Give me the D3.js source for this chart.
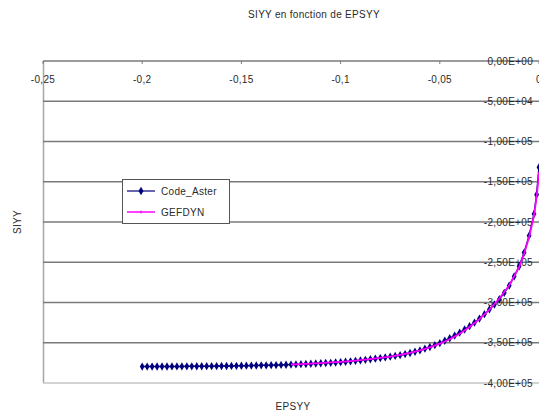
<!DOCTYPE html>
<html>
<head>
<meta charset="utf-8">
<title>SIYY en fonction de EPSYY</title>
<style>
body { margin: 0; background: #fff; }
text { font-family: "Liberation Sans", Arial, sans-serif; fill: #2a2a2a; letter-spacing: 0.3px; }
.tick-label { font-size: 10px; }
.title { font-size: 10px; }
</style>
</head>
<body>
<script src="https://cdn.jsdelivr.net/npm/d3@7"></script>
<script>

// Code_Aster series (EPSYY, SIYY x1000)
var asterEps = [-0.2, -0.1975, -0.195, -0.1925, -0.19, -0.1875, -0.185, -0.1825, -0.18, -0.1775,
  -0.175, -0.1725, -0.17, -0.1675, -0.165, -0.1625, -0.16, -0.1575, -0.155, -0.1525,
  -0.15, -0.1475, -0.145, -0.1425, -0.14, -0.1375, -0.135, -0.1325, -0.13, -0.1275,
  -0.125, -0.1225, -0.12, -0.1175, -0.115, -0.1125, -0.11, -0.1075, -0.105, -0.1025,
  -0.1, -0.0975, -0.095, -0.0925, -0.09, -0.0875, -0.085, -0.0825, -0.08, -0.0775,
  -0.075, -0.0725, -0.07, -0.0675, -0.065, -0.0625, -0.06, -0.0575, -0.055, -0.0525,
  -0.05, -0.0475, -0.045, -0.0425, -0.04, -0.0375, -0.035, -0.0325, -0.03, -0.0275,
  -0.025, -0.0225, -0.02, -0.0175, -0.015, -0.0125, -0.01, -0.0075, -0.005, -0.0025,
  -0.0012, 0];
var asterSig = [-379.6, -379.6, -379.6, -379.5, -379.5, -379.5, -379.4, -379.4, -379.4, -379.3,
  -379.3, -379.2, -379.2, -379.1, -379.1, -379.0, -378.9, -378.9, -378.8, -378.7,
  -378.6, -378.5, -378.4, -378.3, -378.1, -378.0, -377.9, -377.7, -377.5, -377.3,
  -377.1, -376.9, -376.6, -376.4, -376.1, -375.8, -375.5, -375.2, -374.9, -374.5,
  -374.1, -373.6, -373.1, -372.5, -371.9, -371.2, -370.5, -369.8, -369.0, -368.2,
  -367.3, -366.4, -365.4, -364.1, -362.7, -361.2, -359.5, -357.4, -355.3, -353.0,
  -350.5, -347.5, -344.4, -341.1, -337.5, -333.5, -329.4, -324.9, -320.0, -314.5,
  -308.6, -302.5, -296.0, -288.0, -279.0, -267.5, -255.0, -238.0, -217.0, -190.0,
  -166.0, -132.0];

// GEFDYN series
var gefEps = [-0.125, -0.12, -0.115, -0.11, -0.105, -0.1, -0.095, -0.09, -0.085, -0.08,
  -0.075, -0.07, -0.065, -0.06, -0.055, -0.05, -0.045, -0.04, -0.035, -0.03,
  -0.025, -0.02, -0.015, -0.01, -0.0075, -0.005, -0.0025, -0.001, 0];
var gefSig = [-377.0, -376.5, -375.9, -375.2, -374.5, -373.7, -372.8, -371.7, -370.4, -368.9,
  -367.1, -365.0, -362.5, -359.5, -355.8, -351.2, -345.6, -338.8, -330.5, -320.6,
  -308.8, -295.0, -278.5, -256.0, -239.5, -219.0, -192.0, -165.0, -138.0];

var xTicks = [-0.25, -0.2, -0.15, -0.1, -0.05, 0];
var xTickLabels = ["-0,25", "-0,2", "-0,15", "-0,1", "-0,05", "0"];
var yTicks = [0, -50000, -100000, -150000, -200000, -250000, -300000, -350000, -400000];
var yTickLabels = ["0,00E+00", "-5,00E+04", "-1,00E+05", "-1,50E+05", "-2,00E+05",
  "-2,50E+05", "-3,00E+05", "-3,50E+05", "-4,00E+05"];
var seriesNames = ["Code_Aster", "GEFDYN"];

var width = 539, height = 418;
var plotL = 43, plotR = 539, plotT = 61, plotB = 383;

var x = d3.scaleLinear().domain([-0.25, 0]).range([plotL, plotR]);
var y = d3.scaleLinear().domain([-400000, 0]).range([plotB, plotT]);

var svg = d3.select("body").append("svg")
    .attr("width", width)
    .attr("height", height);

// left frame line
svg.append("line")
    .attr("x1", plotL + 0.5).attr("x2", plotL + 0.5)
    .attr("y1", plotT).attr("y2", plotB)
    .attr("stroke", "#a6a6a6").attr("stroke-width", 1.5);

// horizontal grid lines
svg.append("g")
    .selectAll("line")
    .data(yTicks)
    .enter().append("line")
    .attr("x1", plotL).attr("x2", plotR)
    .attr("y1", function(d) { return y(d); })
    .attr("y2", function(d) { return y(d); })
    .attr("stroke", function(d) { return d == -400000 ? "#c4c4c4" : "#7a7a7a"; })
    .attr("stroke-width", 1.5);

// x ticks on the top axis line
svg.append("g")
    .selectAll("line")
    .data(xTicks)
    .enter().append("line")
    .attr("x1", function(d) { return x(d); })
    .attr("x2", function(d) { return x(d); })
    .attr("y1", plotT).attr("y2", plotT + 3)
    .attr("stroke", "#7a7a7a").attr("stroke-width", 1);

svg.append("g")
    .selectAll("text")
    .data(xTicks)
    .enter().append("text")
    .attr("class", "tick-label")
    .attr("x", function(d) { return x(d); })
    .attr("y", plotT + 22)
    .attr("text-anchor", "middle")
    .text(function(d, i) { return xTickLabels[i]; });

// y tick labels sit on the grid lines, right side
svg.append("g")
    .selectAll("text")
    .data(yTicks)
    .enter().append("text")
    .attr("class", "tick-label")
    .attr("x", plotR - 6)
    .attr("y", function(d) { return y(d) + 3.5; })
    .attr("text-anchor", "end")
    .text(function(d, i) { return yTickLabels[i]; });

// series
var aster = asterEps.map(function(e, i) { return [e, asterSig[i] * 1000]; });
var gef = gefEps.map(function(e, i) { return [e, gefSig[i] * 1000]; });

var line = d3.line()
    .x(function(d) { return x(d[0]); })
    .y(function(d) { return y(d[1]); });

svg.append("path")
    .datum(aster)
    .attr("d", line)
    .attr("fill", "none")
    .attr("stroke", "#000080")
    .attr("stroke-width", 1.5);

var diamond = d3.symbol().type(d3.symbolDiamond).size(20);

svg.append("g")
    .selectAll("path")
    .data(aster)
    .enter().append("path")
    .attr("d", diamond)
    .attr("transform", function(d) { return "translate(" + x(d[0]) + "," + y(d[1]) + ")"; })
    .attr("fill", "#000080");

svg.append("path")
    .datum(gef)
    .attr("d", line)
    .attr("fill", "none")
    .attr("stroke", "#ff00ff")
    .attr("stroke-width", 1.8);

// legend
var lg = svg.append("g").attr("transform", "translate(122,179)");
lg.append("rect")
    .attr("x", 0.5).attr("y", 0.5)
    .attr("width", 107).attr("height", 44)
    .attr("fill", "#fff")
    .attr("stroke", "#555").attr("stroke-width", 1);

lg.append("line").attr("x1", 5).attr("x2", 33).attr("y1", 12).attr("y2", 12)
    .attr("stroke", "#000080").attr("stroke-width", 1.2);
lg.append("path").attr("d", d3.symbol().type(d3.symbolDiamond).size(22))
    .attr("transform", "translate(19,12)").attr("fill", "#000080");
lg.append("line").attr("x1", 5).attr("x2", 33).attr("y1", 33).attr("y2", 33)
    .attr("stroke", "#ff00ff").attr("stroke-width", 1.5);
lg.append("line").attr("x1", 19).attr("x2", 19).attr("y1", 31.5).attr("y2", 34.5)
    .attr("stroke", "#ff00ff").attr("stroke-width", 1);

lg.selectAll("text.leg")
    .data(seriesNames)
    .enter().append("text")
    .attr("class", "tick-label leg")
    .attr("x", 39)
    .attr("y", function(d, i) { return 15.5 + i * 21; })
    .text(function(d) { return d; });

// titles
svg.append("text")
    .attr("class", "title")
    .attr("x", 314).attr("y", 18)
    .attr("text-anchor", "middle")
    .text("SIYY en fonction de EPSYY");

svg.append("text")
    .attr("class", "title")
    .attr("x", 293).attr("y", 410)
    .attr("text-anchor", "middle")
    .text("EPSYY");

svg.append("text")
    .attr("class", "title")
    .attr("transform", "translate(21,222) rotate(-90)")
    .attr("text-anchor", "middle")
    .text("SIYY");

</script>
</body>
</html>
